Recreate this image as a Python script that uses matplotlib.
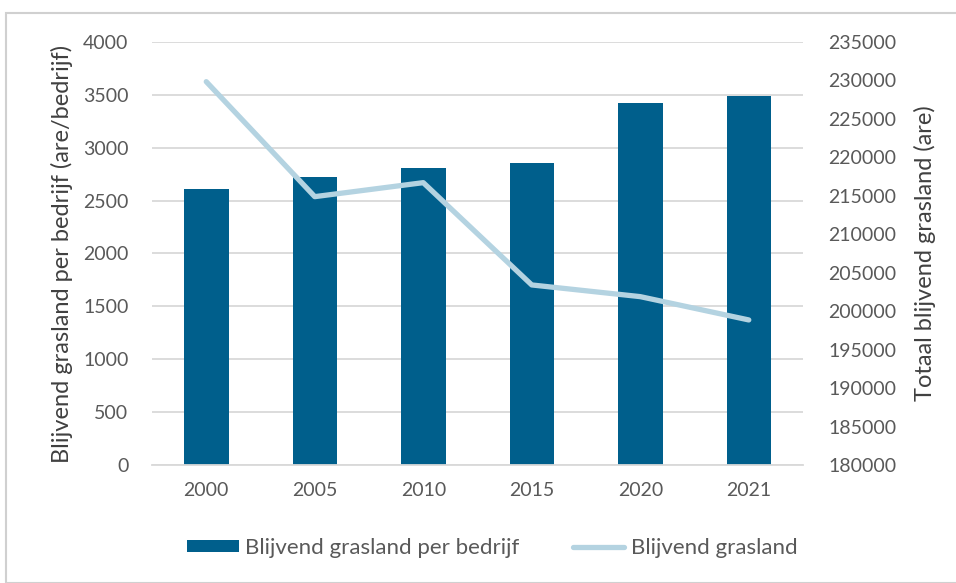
import matplotlib.pyplot as plt
from matplotlib.patches import Rectangle
import numpy as np

plt.rcParams['font.family'] = ['Lato', 'DejaVu Sans']

years = ['2000', '2005', '2010', '2015', '2020', '2021']
per_bedrijf = [2607, 2721, 2812, 2860, 3420, 3492]
totaal = [229840, 214890, 216710, 203410, 201890, 198860]

bar_color = '#005F8C'
line_color = '#B4D3E1'
text_color = '#595959'
grid_color = '#D9D9D9'

fig = plt.figure(figsize=(9.56, 5.83), dpi=100)
ax = fig.add_axes([0.159, 0.2024, 0.681, 0.7256])
ax2 = ax.twinx()

x = np.arange(len(years))
ax.bar(x, per_bedrijf, width=0.41, color=bar_color, zorder=2,
       label='Blijvend grasland per bedrijf')
ax2.plot(x, totaal, color=line_color, lw=3.8, solid_capstyle='round',
         label='Blijvend grasland', zorder=3)

ax.set_xlim(-0.5, len(years) - 0.5)
ax.set_ylim(0, 4000)
ax.set_yticks(np.arange(0, 4001, 500))
ax2.set_ylim(180000, 235000)
ax2.set_yticks(np.arange(180000, 235001, 5000))

ax.set_xticks(x)
ax.set_xticklabels(years)
ax.yaxis.grid(True, color=grid_color, lw=1.3, zorder=0)
ax.set_axisbelow(True)

for a in (ax, ax2):
    for s in a.spines.values():
        s.set_visible(False)
    a.tick_params(length=0, colors=text_color, labelsize=14)
ax.spines['bottom'].set_visible(True)
ax.spines['bottom'].set_color(grid_color)
ax.spines['bottom'].set_linewidth(1.3)
ax.tick_params(axis='x', pad=12)
ax.tick_params(axis='y', pad=17)
ax2.tick_params(axis='y', pad=18)

ax.set_ylabel('Blijvend grasland per bedrijf (are/bedrijf)', fontsize=17,
              color='#404040', labelpad=7)
ax2.set_ylabel('Totaal blijvend grasland (are)', fontsize=17,
               color='#404040', labelpad=13)

h1, l1 = ax.get_legend_handles_labels()
h2, l2 = ax2.get_legend_handles_labels()
fig.legend(h1 + h2, l1 + l2, loc='center', bbox_to_anchor=(0.515, 0.06), ncol=2,
           frameon=False, fontsize=16, labelcolor=text_color,
           handlelength=2.3, handleheight=0.5, handletextpad=0.3,
           columnspacing=2.4)

fig.add_artist(Rectangle((0.006, 0.0), 1.0, 0.978, transform=fig.transFigure,
                         fill=False, edgecolor='#D0D0D0', lw=1.5))

fig.savefig('out.png', dpi=100)
